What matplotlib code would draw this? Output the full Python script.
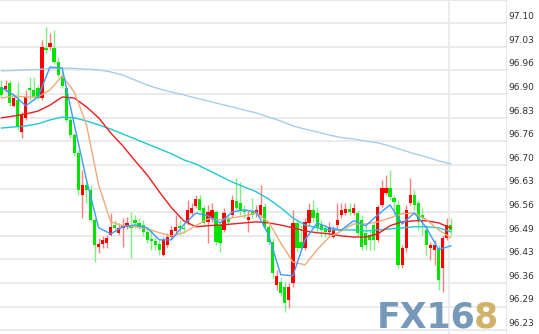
import matplotlib
matplotlib.use('Agg')
import matplotlib.pyplot as plt
import matplotlib.transforms as mtransforms
import numpy as np

# candle data
opens = [96.919, 96.914, 96.931, 96.866, 96.883, 96.792, 96.832, 96.917, 96.911, 96.917,
         96.888, 97.030, 97.033, 97.030, 96.990, 96.948, 96.917, 96.826, 96.783, 96.732,
         96.613, 96.642, 96.628, 96.543, 96.466, 96.474, 96.477, 96.500, 96.528, 96.506,
         96.520, 96.523, 96.526, 96.543, 96.534, 96.528, 96.509, 96.489, 96.483, 96.474,
         96.443, 96.472, 96.494, 96.511, 96.526, 96.520, 96.534, 96.562, 96.582, 96.602,
         96.577, 96.537, 96.548, 96.565, 96.528, 96.514, 96.545, 96.557, 96.596, 96.591,
         96.568, 96.543, 96.565, 96.560, 96.557, 96.579, 96.523, 96.480, 96.358, 96.367,
         96.353, 96.316, 96.364, 96.534, 96.480, 96.463, 96.534, 96.571, 96.562, 96.528,
         96.520, 96.509, 96.494, 96.528, 96.557, 96.562, 96.574, 96.562, 96.562, 96.543,
         96.506, 96.500, 96.528, 96.486, 96.585, 96.619, 96.633, 96.605, 96.585, 96.415,
         96.463, 96.591, 96.613, 96.591, 96.557, 96.514, 96.463, 96.458, 96.463, 96.406,
         96.492, 96.528]
closes = [96.897, 96.922, 96.874, 96.888, 96.806, 96.840, 96.891, 96.911, 96.891, 96.888,
          97.033, 97.024, 97.044, 96.990, 96.953, 96.922, 96.826, 96.783, 96.732, 96.628,
          96.642, 96.628, 96.543, 96.472, 96.474, 96.486, 96.492, 96.523, 96.520, 96.520,
          96.528, 96.534, 96.520, 96.534, 96.523, 96.509, 96.486, 96.483, 96.472, 96.458,
          96.486, 96.494, 96.514, 96.523, 96.520, 96.517, 96.571, 96.577, 96.602, 96.571,
          96.534, 96.565, 96.571, 96.480, 96.477, 96.562, 96.537, 96.599, 96.577, 96.571,
          96.565, 96.551, 96.557, 96.571, 96.585, 96.523, 96.480, 96.392, 96.384, 96.336,
          96.307, 96.353, 96.534, 96.463, 96.463, 96.537, 96.571, 96.548, 96.523, 96.514,
          96.509, 96.523, 96.514, 96.543, 96.571, 96.574, 96.565, 96.577, 96.506, 96.466,
          96.472, 96.486, 96.486, 96.579, 96.633, 96.633, 96.608, 96.594, 96.415, 96.463,
          96.571, 96.613, 96.585, 96.543, 96.548, 96.472, 96.472, 96.472, 96.372, 96.492,
          96.528, 96.514]
highs = [96.939, 96.939, 96.939, 96.894, 96.934, 96.849, 96.911, 96.948, 96.948, 96.925,
         97.053, 97.089, 97.072, 97.081, 97.004, 96.962, 96.922, 96.834, 96.789, 96.741,
         96.684, 96.656, 96.642, 96.548, 96.492, 96.497, 96.500, 96.562, 96.543, 96.534,
         96.548, 96.551, 96.565, 96.557, 96.548, 96.543, 96.520, 96.514, 96.494, 96.486,
         96.494, 96.506, 96.526, 96.557, 96.543, 96.537, 96.599, 96.591, 96.613, 96.613,
         96.585, 96.585, 96.591, 96.571, 96.537, 96.577, 96.557, 96.613, 96.662, 96.650,
         96.585, 96.571, 96.605, 96.585, 96.642, 96.591, 96.528, 96.492, 96.401, 96.378,
         96.367, 96.364, 96.571, 96.543, 96.528, 96.548, 96.591, 96.599, 96.579, 96.543,
         96.528, 96.537, 96.526, 96.591, 96.591, 96.591, 96.591, 96.591, 96.571, 96.557,
         96.528, 96.514, 96.537, 96.585, 96.656, 96.670, 96.684, 96.613, 96.599, 96.472,
         96.585, 96.662, 96.628, 96.599, 96.577, 96.528, 96.480, 96.486, 96.472, 96.500,
         96.548, 96.548]
lows = [96.891, 96.905, 96.866, 96.863, 96.798, 96.775, 96.826, 96.883, 96.883, 96.883,
        96.883, 97.016, 97.024, 96.985, 96.948, 96.917, 96.820, 96.775, 96.724, 96.613,
        96.548, 96.591, 96.537, 96.423, 96.449, 96.463, 96.463, 96.497, 96.509, 96.500,
        96.466, 96.517, 96.435, 96.520, 96.514, 96.497, 96.477, 96.458, 96.458, 96.443,
        96.441, 96.466, 96.489, 96.506, 96.500, 96.506, 96.528, 96.557, 96.577, 96.565,
        96.526, 96.477, 96.537, 96.472, 96.452, 96.509, 96.528, 96.551, 96.571, 96.557,
        96.548, 96.509, 96.548, 96.551, 96.548, 96.517, 96.472, 96.378, 96.344, 96.327,
        96.282, 96.293, 96.353, 96.452, 96.458, 96.458, 96.528, 96.537, 96.509, 96.494,
        96.494, 96.500, 96.492, 96.520, 96.548, 96.557, 96.557, 96.557, 96.500, 96.458,
        96.458, 96.458, 96.458, 96.480, 96.579, 96.613, 96.599, 96.557, 96.406, 96.406,
        96.452, 96.585, 96.571, 96.514, 96.500, 96.443, 96.429, 96.415, 96.344, 96.338,
        96.486, 96.500]

# moving averages, read every 3rd candle
ma_idx = list(range(0, 112, 3))
ma5 = [96.917, 96.897, 96.866, 96.891, 96.976, 96.973, 96.812, 96.656, 96.520, 96.503,
       96.523, 96.528, 96.520, 96.486, 96.486, 96.528, 96.562, 96.554, 96.534, 96.565,
       96.571, 96.565, 96.500, 96.387, 96.384, 96.486, 96.534, 96.520, 96.514, 96.540,
       96.526, 96.557, 96.585, 96.531, 96.562, 96.520, 96.458, 96.469]
ma10 = [96.888, 96.894, 96.891, 96.891, 96.911, 96.951, 96.905, 96.812, 96.642, 96.537,
        96.526, 96.523, 96.517, 96.506, 96.497, 96.506, 96.526, 96.545, 96.543, 96.548,
        96.554, 96.562, 96.537, 96.477, 96.423, 96.415, 96.458, 96.494, 96.511, 96.531,
        96.531, 96.537, 96.548, 96.560, 96.562, 96.543, 96.514, 96.492]
ma30 = [96.832, 96.837, 96.843, 96.851, 96.868, 96.891, 96.888, 96.863, 96.832, 96.789,
        96.752, 96.710, 96.670, 96.622, 96.577, 96.540, 96.523, 96.526, 96.528, 96.531,
        96.534, 96.537, 96.534, 96.528, 96.520, 96.511, 96.506, 96.503, 96.497, 96.494,
        96.494, 96.503, 96.526, 96.537, 96.540, 96.540, 96.534, 96.520]
ma60 = [96.803, 96.806, 96.809, 96.815, 96.826, 96.834, 96.832, 96.823, 96.812, 96.800,
        96.786, 96.772, 96.758, 96.744, 96.730, 96.713, 96.701, 96.684, 96.667, 96.650,
        96.636, 96.622, 96.602, 96.577, 96.548, 96.528, 96.520, 96.514, 96.514, 96.514,
        96.511, 96.514, 96.517, 96.520, 96.523, 96.523, 96.520, 96.509]
ma120 = [96.965, 96.966, 96.968, 96.969, 96.972, 96.973, 96.972, 96.970, 96.968, 96.962,
         96.953, 96.939, 96.925, 96.914, 96.905, 96.897, 96.888, 96.880, 96.871, 96.863,
         96.854, 96.846, 96.834, 96.823, 96.809, 96.800, 96.792, 96.783, 96.776, 96.772,
         96.766, 96.761, 96.752, 96.741, 96.730, 96.721, 96.710, 96.701]

tick_labels = ['97.10', '97.03', '96.96', '96.90', '96.83', '96.76', '96.70',
               '96.63', '96.56', '96.49', '96.43', '96.36', '96.29', '96.23']
tick_vals = np.linspace(97.10, 96.23, len(tick_labels))

fig = plt.figure(figsize=(5.39, 3.34), dpi=100)
ax = fig.add_axes([0, 0, 506 / 539, 1])

o = np.array(opens)
c = np.array(closes)
h = np.array(highs)
l = np.array(lows)
x = np.arange(len(c))
up = c >= o
bottom = np.minimum(o, c)
height = np.maximum(np.abs(c - o), 0.0025)

# wicks
ax.vlines(x[up], l[up], h[up], color='#ff8080', lw=1, zorder=2)
ax.vlines(x[~up], l[~up], h[~up], color='#80f080', lw=1, zorder=2)
# bodies
ax.bar(x[up], height[up], bottom=bottom[up], width=0.8, color='#ff0000', lw=0, zorder=3)
ax.bar(x[~up], height[~up], bottom=bottom[~up], width=0.8, color='#00e400', lw=0, zorder=3)

# moving averages
ax.plot(ma_idx, ma120, color='#a9cde8', lw=1.0, zorder=4)
ax.plot(ma_idx, ma60, color='#1ec8d2', lw=1.0, zorder=4)
ax.plot(ma_idx, ma30, color='#ee1c1c', lw=1.0, zorder=4)
ax.plot(ma_idx, ma10, color='#efaa7a', lw=1.0, zorder=4)
ax.plot(ma_idx, ma5, color='#3c9cff', lw=1.0, zorder=4)

# scales
px_per_unit = 23.6 / (tick_vals[0] - tick_vals[1])
ax.set_ylim(97.10 - (334 - 23.3) / px_per_unit, 97.10 + 23.3 / px_per_unit)
ax.set_xlim(-0.37, 124.66)

ax.set_yticks(tick_vals)
ax.set_yticklabels(tick_labels)
ax.yaxis.tick_right()
ax.tick_params(axis='y', length=0, pad=2, labelsize=6.5, labelcolor='#333333')
ax.set_xticks([])
shift = mtransforms.ScaledTranslation(0, 7.5 / 100, fig.dpi_scale_trans)
for lab in ax.get_yticklabels():
    lab.set_transform(lab.get_transform() + shift)

ax.grid(axis='y', color='#e8e8e8', lw=1.2, zorder=0)
ax.axvline(110.6, color='#e8e8e8', lw=1.2, zorder=0)

for side in ['left', 'bottom']:
    ax.spines[side].set_visible(False)
ax.spines['top'].set_color('#e8e8e8')
ax.spines['right'].set_color('#e8e8e8')

# watermark
fig.text(377 / 539, 7 / 334, 'FX16', fontsize=25, fontweight='bold',
         color='#6f93b6', va='baseline', ha='left', alpha=0.95, zorder=10)
fig.text(474 / 539, 7 / 334, '8', fontsize=25, fontweight='bold',
         color='#cfae62', va='baseline', ha='left', alpha=0.95, zorder=10)

fig.savefig('out.png', dpi=100)
